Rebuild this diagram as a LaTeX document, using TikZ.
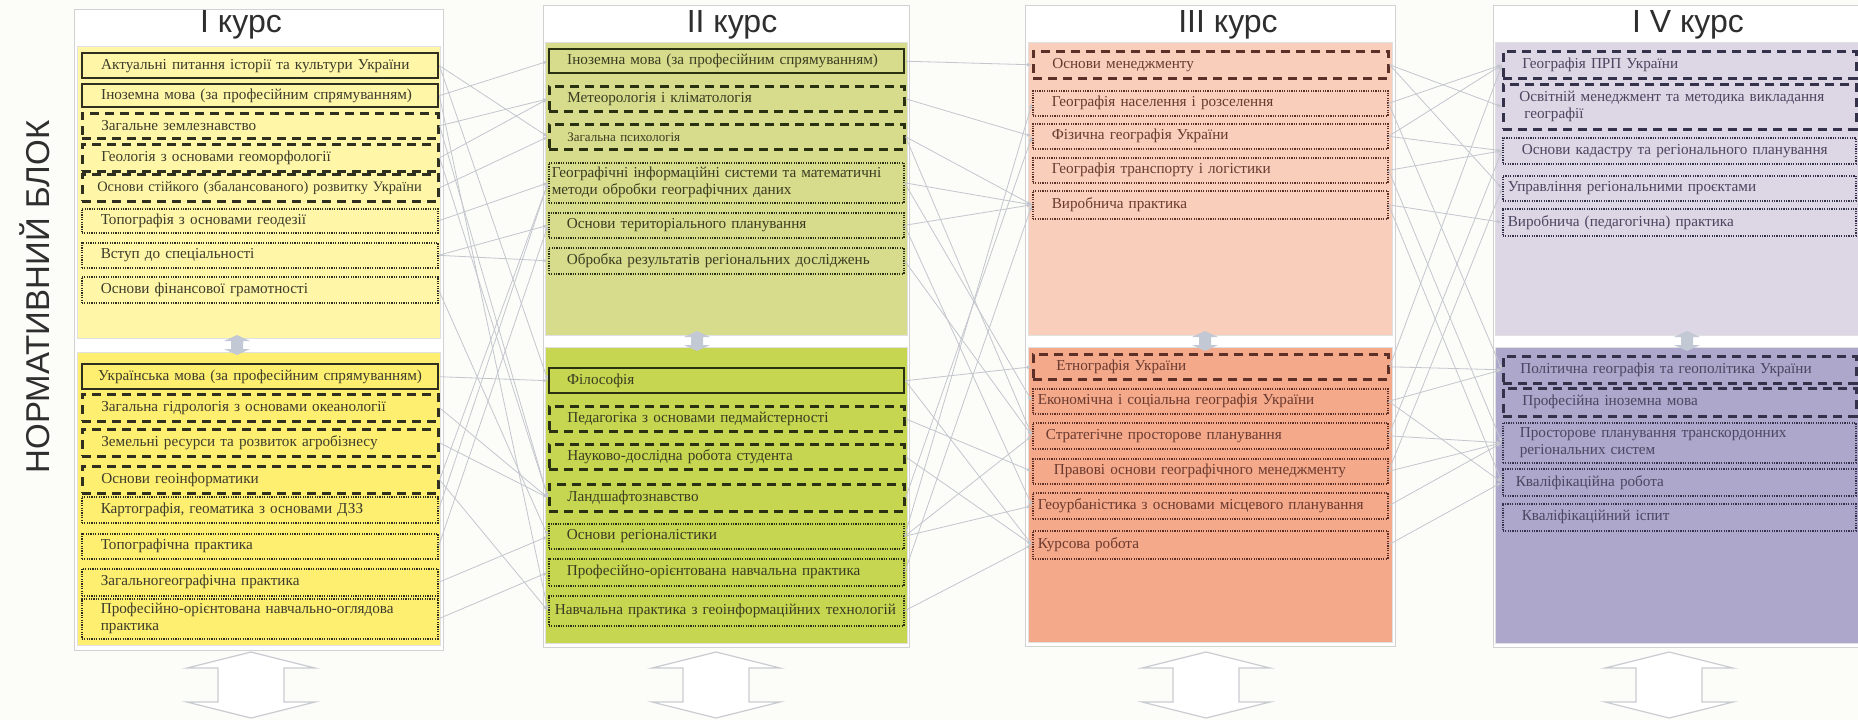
\documentclass[tikz,border=0pt]{standalone}
\usepackage{fontspec}
\setmainfont{Liberation Serif}
\newfontfamily\titlefont{Liberation Sans}
\usetikzlibrary{arrows.meta}
\definecolor{bg}{HTML}{FCFCF9}
\definecolor{frameC}{HTML}{D2D2D2}
\definecolor{yA}{HTML}{FFF6A8}
\definecolor{yB}{HTML}{FFEF70}
\definecolor{gA}{HTML}{D7DC8C}
\definecolor{gB}{HTML}{C6D650}
\definecolor{pA}{HTML}{F9CEBA}
\definecolor{pB}{HTML}{F4A98A}
\definecolor{vA}{HTML}{DDD6E4}
\definecolor{vB}{HTML}{AEA7CC}
\definecolor{edgeI}{HTML}{2F2F1F}
\definecolor{edgeII}{HTML}{2A3012}
\definecolor{edgeIII}{HTML}{5C3026}
\definecolor{edgeIV}{HTML}{34324A}
\definecolor{txtI}{HTML}{3C3C2C}
\definecolor{txtII}{HTML}{3A3C22}
\definecolor{txtIII}{HTML}{6A3A30}
\definecolor{txtIV}{HTML}{4A4660}
\definecolor{linkC}{HTML}{C3C6CD}
\definecolor{midC}{HTML}{C2C8D4}
\definecolor{bigC}{HTML}{C8CBD0}
\definecolor{headC}{HTML}{2E2E2E}
\newcommand\cellt[2]{\leftskip=#1pt\relax #2\par}
\newcommand\cells[2]{\leftskip=#1pt\relax\mbox{#2}\par}
\tikzset{
  cell/.style n args={2}{anchor=north west, minimum width=#1, minimum height=#2,
    text width=#1-6, inner xsep=3, inner ysep=0, align=left,
    font=\fontsize{15.2}{17}\selectfont},
  solidb/.style={draw=#1, line width=2.4pt},
  dashb/.style={draw=#1, line width=2.6pt, dash pattern=on 9pt off 6pt},
  dotb/.style={draw=#1, line width=1.6pt, dash pattern=on 1.2pt off 1.2pt},
  link/.style={draw=linkC, line width=0.8pt, -{Latex[length=5pt,width=3.5pt]}},
  colframe/.style={fill=white, draw=frameC, line width=1pt},
  block/.style={draw=black!12, line width=0.6pt},
  title/.style={font=\titlefont\fontsize{32}{34}\selectfont, text=headC},
  midarrow/.pic={\fill[midC] (-6,-4) -- (-13,-4) -- (0,-10) -- (13,-4) -- (6,-4) -- (6,4) -- (13,4) -- (0,10) -- (-13,4) -- (-6,4) -- cycle;},
  bigarrow/.pic={\draw[bigC, fill=white, line width=1.2pt] (-64,-17) -- (0,-33) -- (64,-17) -- (33,-17) -- (33,17) -- (64,17) -- (0,33) -- (-64,17) -- (-33,17) -- (-33,-17) -- cycle;}
}
\begin{document}
\begin{tikzpicture}[x=1pt,y=-1pt]
\useasboundingbox (0,0) rectangle (1858,720);
\fill[bg] (0,0) rectangle (1858,720);

% column frames
\draw[colframe] (74,9) rectangle (443,650);
\draw[colframe] (543,5) rectangle (909,647);
\draw[colframe] (1025,5) rectangle (1395,646);
\draw[colframe] (1493,5) rectangle (1862,647);

% blocks
\fill[yA] (77,46) rectangle (440,338); \draw[block] (77,46) rectangle (440,338);
\fill[yB] (77,352) rectangle (440,645); \draw[block] (77,352) rectangle (440,645);
\fill[gA] (545,42) rectangle (907,335); \draw[block] (545,42) rectangle (907,335);
\fill[gB] (545,347) rectangle (907,643); \draw[block] (545,347) rectangle (907,643);
\fill[pA] (1028,42) rectangle (1392,335); \draw[block] (1028,42) rectangle (1392,335);
\fill[pB] (1028,347) rectangle (1392,642); \draw[block] (1028,347) rectangle (1392,642);
\fill[vA] (1495,42) rectangle (1860,335); \draw[block] (1495,42) rectangle (1860,335);
\fill[vB] (1495,347) rectangle (1860,643); \draw[block] (1495,347) rectangle (1860,643);

% small arrows between blocks
\pic at (237,345) {midarrow};
\pic at (697,341) {midarrow};
\pic at (1205,341) {midarrow};
\pic at (1687,341) {midarrow};

% big arrows below
\pic at (251,685) {bigarrow};
\pic at (716,685) {bigarrow};
\pic at (1206,685) {bigarrow};
\pic at (1669,685) {bigarrow};

% titles
\node[title] (t1) at (241,25) {I курс};
\node[title] (t2) at (732,25) {II курс};
\node[title] (t3) at (1228,25) {III курс};
\node[title] (t4) at (1688,25) {I V курс};
\node[rotate=90, font=\titlefont\fontsize{33}{35}\selectfont, text=headC] (side) at (35,297) {НОРМАТИВНИЙ БЛОК};

% ---- column I
\begin{scope}[every node/.append style={text=txtI}]
\node[cell={356}{25}, solidb=edgeI] (a1) at (81,52) {\cells{16}{Актуальні питання історії та культури України}};
\node[cell={356}{23}, solidb=edgeI] (a2) at (81,83) {\cells{16}{Іноземна мова (за професійним спрямуванням)}};
\node[cell={356}{25}, dashb=edgeI] (a3) at (81,112) {\cells{16}{Загальне землезнавство}};
\node[cell={356}{27}, dashb=edgeI] (a4) at (81,143) {\cells{16}{Геологія з основами геоморфології}};
\node[cell={356}{27}, dashb=edgeI, font=\fontsize{14.4}{16}\selectfont] (a5) at (81,173) {\cells{12}{Основи стійкого (збалансованого) розвитку України}};
\node[cell={356}{24}, dotb=edgeI] (a6) at (81,208) {\cells{16}{Топографія з основами геодезії}};
\node[cell={356}{25}, dotb=edgeI] (a7) at (81,242) {\cells{16}{Вступ до спеціальності}};
\node[cell={356}{26}, dotb=edgeI] (a8) at (81,276) {\cells{16}{Основи фінансової грамотності}};
\node[cell={356}{25}, solidb=edgeI] (b1) at (81,363) {\cells{13}{Українська мова (за професійним спрямуванням)}};
\node[cell={356}{27}, dashb=edgeI] (b2) at (81,393) {\cells{16}{Загальна гідрологія з основами океанології}};
\node[cell={356}{27}, dashb=edgeI] (b3) at (81,428) {\cells{16}{Земельні ресурси та розвиток агробізнесу}};
\node[cell={356}{27}, dashb=edgeI] (b4) at (81,465) {\cells{16}{Основи геоінформатики}};
\node[cell={356}{26}, dotb=edgeI] (b5) at (81,496) {\cells{16}{Картографія, геоматика з основами ДЗЗ}};
\node[cell={356}{25}, dotb=edgeI] (b6) at (81,533) {\cells{16}{Топографічна практика}};
\node[cell={356}{27}, dotb=edgeI] (b7) at (81,568) {\cells{16}{Загальногеографічна практика}};
\node[cell={356}{40}, dotb=edgeI] (b8) at (81,598) {\cellt{16}{Професійно-орієнтована навчально-оглядова\\практика}};
\end{scope}

% ---- column II
\begin{scope}[every node/.append style={text=txtII}]
\node[cell={355}{24}, solidb=edgeII] (c1) at (548,48) {\cells{15}{Іноземна мова (за професійним спрямуванням)}};
\node[cell={355}{25}, dashb=edgeII] (c2) at (548,85) {\cells{15}{Метеорологія і кліматологія}};
\node[cell={355}{25}, dashb=edgeII, font=\fontsize{13}{15}\selectfont] (c3) at (548,123) {\cells{15}{Загальна психологія}};
\node[cell={355}{40}, dotb=edgeII] (c4) at (548,162) {\cellt{0}{Географічні інформаційні системи та математичні\\методи обробки географічних даних}};
\node[cell={355}{25}, dotb=edgeII] (c5) at (548,212) {\cells{15}{Основи територіального планування}};
\node[cell={355}{26}, dotb=edgeII] (c6) at (548,247) {\cells{15}{Обробка результатів регіональних досліджень}};
\node[cell={355}{25}, solidb=edgeII] (d1) at (548,367) {\cells{15}{Філософія}};
\node[cell={355}{25}, dashb=edgeII] (d2) at (548,405) {\cells{15}{Педагогіка з основами педмайстерності}};
\node[cell={355}{25}, dashb=edgeII] (d3) at (548,443) {\cells{15}{Науково-дослідна робота студента}};
\node[cell={355}{27}, dashb=edgeII] (d4) at (548,483) {\cells{15}{Ландшафтознавство}};
\node[cell={355}{25}, dotb=edgeII] (d5) at (548,523) {\cells{15}{Основи регіоналістики}};
\node[cell={355}{27}, dotb=edgeII] (d6) at (548,558) {\cells{15}{Професійно-орієнтована навчальна практика}};
\node[cell={355}{30}, dotb=edgeII] (d7) at (548,595) {\cells{3}{Навчальна практика з геоінформаційних технологій}};
\end{scope}

% ---- column III
\begin{scope}[every node/.append style={text=txtIII}]
\node[cell={355}{27}, dashb=edgeIII] (e1) at (1032,50) {\cells{16}{Основи менеджменту}};
\node[cell={355}{25}, dotb=edgeIII] (e2) at (1032,90) {\cells{16}{Географія населення і розселення}};
\node[cell={355}{25}, dotb=edgeIII] (e3) at (1032,123) {\cells{16}{Фізична географія України}};
\node[cell={355}{25}, dotb=edgeIII] (e4) at (1032,157) {\cells{16}{Географія транспорту і логістики}};
\node[cell={355}{28}, dotb=edgeIII] (e5) at (1032,190) {\cells{16}{Виробнича практика}};
\node[cell={355}{25}, dashb=edgeIII] (f1) at (1032,353) {\cells{20}{Етнографія України}};
\node[cell={355}{25}, dotb=edgeIII] (f2) at (1032,388) {\cells{2}{Економічна і соціальна географія України}};
\node[cell={355}{26}, dotb=edgeIII] (f3) at (1032,422) {\cells{10}{Стратегічне просторове планування}};
\node[cell={355}{25}, dotb=edgeIII] (f4) at (1032,458) {\cells{18}{Правові основи географічного менеджменту}};
\node[cell={355}{26}, dotb=edgeIII] (f5) at (1032,492) {\cells{2}{Геоурбаністика з основами місцевого планування}};
\node[cell={355}{28}, dotb=edgeIII] (f6) at (1032,530) {\cells{2}{Курсова робота}};
\end{scope}

% ---- column IV
\begin{scope}[every node/.append style={text=txtIV}]
\node[cell={353}{27}, dashb=edgeIV] (g1) at (1502,50) {\cells{16}{Географія ПРП України}};
\node[cell={353}{45}, dashb=edgeIV] (g2) at (1502,83) {\cellt{13}{Освітній менеджмент та методика викладання\\\hspace*{5pt}географії}};
\node[cell={353}{26}, dotb=edgeIV] (g3) at (1502,137) {\cells{16}{Основи кадастру та регіонального планування}};
\node[cell={353}{25}, dotb=edgeIV] (g4) at (1502,175) {\cells{2}{Управління регіональними проєктами}};
\node[cell={353}{27}, dotb=edgeIV] (g5) at (1502,208) {\cells{2}{Виробнича (педагогічна) практика}};
\node[cell={353}{27}, dashb=edgeIV] (h1) at (1502,355) {\cells{14}{Політична географія та геополітика України}};
\node[cell={353}{28}, dashb=edgeIV] (h2) at (1502,387) {\cells{16}{Професійна іноземна мова}};
\node[cell={353}{40}, dotb=edgeIV] (h3) at (1502,422) {\cellt{14}{Просторове планування транскордонних\\регіональних систем}};
\node[cell={353}{27}, dotb=edgeIV] (h4) at (1502,468) {\cells{10}{Кваліфікаційна робота}};
\node[cell={353}{27}, dotb=edgeIV] (h5) at (1502,503) {\cells{16}{Кваліфікаційний іспит}};
\end{scope}

% ---- connectors I -> II
\draw[link] (a1.east) -- (c3.west);
\draw[link] (a1.east) -- (d1.west);
\draw[link] (a2.east) -- (c1.west);
\draw[link] (a2.east) -- (d7.west);
\draw[link] (a3.east) -- (c2.west);
\draw[link] (a3.east) -- (d4.west);
\draw[link] (a4.east) -- (c2.west);
\draw[link] (a4.east) -- (d4.west);
\draw[link] (a5.east) -- (c3.west);
\draw[link] (a6.east) -- (c4.west);
\draw[link] (a7.east) -- (c5.west);
\draw[link] (a7.east) -- (c6.west);
\draw[link] (a8.east) -- (d5.west);
\draw[link] (b1.east) -- (d1.west);
\draw[link] (b2.east) -- (d4.west);
\draw[link] (b3.east) -- (d4.west);
\draw[link] (b4.east) -- (c4.west);
\draw[link] (b4.east) -- (d7.west);
\draw[link] (b5.east) -- (c4.west);
\draw[link] (b6.east) -- (c5.west);
\draw[link] (b7.east) -- (d5.west);
\draw[link] (b8.east) -- (d6.west);

% ---- connectors II -> III
\draw[link] (c1.east) -- (e1.west);
\draw[link] (c2.east) -- (e3.west);
\draw[link] (c3.east) -- (e5.west);
\draw[link] (c4.east) -- (e5.west);
\draw[link] (c5.east) -- (e5.west);
\draw[link] (c3.east) -- (f3.west);
\draw[link] (c5.east) -- (f5.west);
\draw[link] (c6.east) -- (f3.west);
\draw[link] (c4.east) -- (f2.west);
\draw[link] (d1.east) -- (f6.west);
\draw[link] (d1.east) -- (f1.west);
\draw[link] (d2.east) -- (f4.west);
\draw[link] (d3.east) -- (f6.west);
\draw[link] (d4.east) -- (e3.west);
\draw[link] (d5.east) -- (e2.west);
\draw[link] (d5.east) -- (f5.west);
\draw[link] (d5.east) -- (f3.west);
\draw[link] (d6.east) -- (e5.west);
\draw[link] (d7.east) -- (f6.west);

% ---- connectors III -> IV
\draw[link] (e1.east) -- (g2.west);
\draw[link] (e1.east) -- (g4.west);
\draw[link] (e2.east) -- (g1.west);
\draw[link] (e2.east) -- (h1.west);
\draw[link] (e3.east) -- (g1.west);
\draw[link] (e3.east) -- (g3.west);
\draw[link] (e4.east) -- (g3.west);
\draw[link] (e4.east) -- (h3.west);
\draw[link] (e5.east) -- (g5.west);
\draw[link] (e5.east) -- (h4.west);
\draw[link] (f1.east) -- (h1.west);
\draw[link] (f1.east) -- (g1.west);
\draw[link] (f2.east) -- (h1.west);
\draw[link] (f2.east) -- (h4.west);
\draw[link] (f3.east) -- (g3.west);
\draw[link] (f3.east) -- (h3.west);
\draw[link] (f4.east) -- (g4.west);
\draw[link] (f4.east) -- (h3.west);
\draw[link] (f5.east) -- (h3.west);
\draw[link] (f6.east) -- (h4.west);
\end{tikzpicture}
\end{document}
